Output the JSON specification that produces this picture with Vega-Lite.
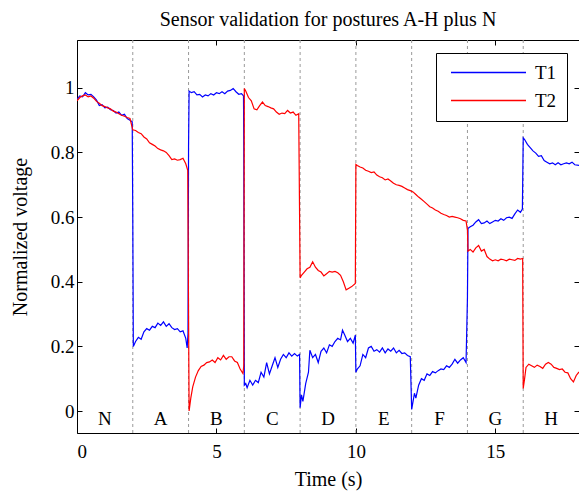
{
  "$schema": "https://vega.github.io/schema/vega-lite/v6.json",
  "width": 502,
  "height": 393,
  "autosize": {"type": "none"},
  "padding": {"left": 77, "top": 40, "right": 0, "bottom": 60},
  "background": "white",
  "title": {"text": "Sensor validation for postures A-H plus N", "fontSize": 20, "font": "Liberation Serif", "fontWeight": "normal", "color": "black", "anchor": "middle", "frame": "group", "offset": 10},
  "config": {
    "view": {"stroke": "black", "strokeWidth": 1},
    "font": "Liberation Serif",
    "text": {"font": "Liberation Serif"},
    "legend": {"labelFont": "Liberation Serif", "titleFont": "Liberation Serif"},
    "axis": {"domainColor": "black", "tickColor": "black", "labelColor": "black", "titleColor": "black", "labelFont": "Liberation Serif", "titleFont": "Liberation Serif", "labelFontSize": 19, "titleFontSize": 20, "titleFontWeight": "normal", "grid": false, "tickSize": -5, "labelPadding": 10}
  },
  "datasets": {
    "series": [
      {"s":"T1","t":0.00,"v":0.965},{"s":"T1","t":0.10,"v":0.975},{"s":"T1","t":0.20,"v":0.972},{"s":"T1","t":0.30,"v":0.985},{"s":"T1","t":0.40,"v":0.978},{"s":"T1","t":0.50,"v":0.980},{"s":"T1","t":0.60,"v":0.972},{"s":"T1","t":0.70,"v":0.962},{"s":"T1","t":0.80,"v":0.945},{"s":"T1","t":0.90,"v":0.948},{"s":"T1","t":1.00,"v":0.938},{"s":"T1","t":1.10,"v":0.940},{"s":"T1","t":1.20,"v":0.932},{"s":"T1","t":1.30,"v":0.930},{"s":"T1","t":1.40,"v":0.922},{"s":"T1","t":1.50,"v":0.925},{"s":"T1","t":1.60,"v":0.915},{"s":"T1","t":1.70,"v":0.918},{"s":"T1","t":1.80,"v":0.905},{"s":"T1","t":1.90,"v":0.900},{"s":"T1","t":1.98,"v":0.895},
      {"s":"T1","t":2.00,"v":0.600},{"s":"T1","t":2.02,"v":0.200},{"s":"T1","t":2.10,"v":0.215},{"s":"T1","t":2.20,"v":0.228},{"s":"T1","t":2.30,"v":0.222},{"s":"T1","t":2.40,"v":0.245},{"s":"T1","t":2.50,"v":0.255},{"s":"T1","t":2.60,"v":0.250},{"s":"T1","t":2.70,"v":0.262},{"s":"T1","t":2.80,"v":0.258},{"s":"T1","t":2.90,"v":0.272},{"s":"T1","t":3.00,"v":0.265},{"s":"T1","t":3.10,"v":0.276},{"s":"T1","t":3.20,"v":0.262},{"s":"T1","t":3.30,"v":0.270},{"s":"T1","t":3.40,"v":0.258},{"s":"T1","t":3.50,"v":0.252},{"s":"T1","t":3.60,"v":0.255},{"s":"T1","t":3.70,"v":0.245},{"s":"T1","t":3.80,"v":0.248},{"s":"T1","t":3.90,"v":0.225},{"s":"T1","t":3.95,"v":0.195},{"s":"T1","t":3.98,"v":0.240},
      {"s":"T1","t":4.00,"v":0.820},{"s":"T1","t":4.02,"v":0.990},{"s":"T1","t":4.10,"v":0.985},{"s":"T1","t":4.20,"v":0.988},{"s":"T1","t":4.30,"v":0.978},{"s":"T1","t":4.40,"v":0.980},{"s":"T1","t":4.50,"v":0.972},{"s":"T1","t":4.60,"v":0.978},{"s":"T1","t":4.70,"v":0.975},{"s":"T1","t":4.80,"v":0.982},{"s":"T1","t":4.90,"v":0.978},{"s":"T1","t":5.00,"v":0.985},{"s":"T1","t":5.10,"v":0.982},{"s":"T1","t":5.20,"v":0.988},{"s":"T1","t":5.30,"v":0.982},{"s":"T1","t":5.40,"v":0.990},{"s":"T1","t":5.50,"v":0.992},{"s":"T1","t":5.60,"v":0.998},{"s":"T1","t":5.70,"v":0.988},{"s":"T1","t":5.80,"v":0.980},{"s":"T1","t":5.90,"v":0.982},{"s":"T1","t":5.97,"v":0.975},{"s":"T1","t":5.98,"v":0.820},
      {"s":"T1","t":6.00,"v":0.080},{"s":"T1","t":6.05,"v":0.085},{"s":"T1","t":6.10,"v":0.072},{"s":"T1","t":6.20,"v":0.095},{"s":"T1","t":6.30,"v":0.080},{"s":"T1","t":6.40,"v":0.095},{"s":"T1","t":6.50,"v":0.088},{"s":"T1","t":6.60,"v":0.120},{"s":"T1","t":6.70,"v":0.105},{"s":"T1","t":6.80,"v":0.150},{"s":"T1","t":6.90,"v":0.115},{"s":"T1","t":7.00,"v":0.140},{"s":"T1","t":7.10,"v":0.165},{"s":"T1","t":7.20,"v":0.135},{"s":"T1","t":7.30,"v":0.160},{"s":"T1","t":7.40,"v":0.175},{"s":"T1","t":7.50,"v":0.165},{"s":"T1","t":7.60,"v":0.180},{"s":"T1","t":7.70,"v":0.170},{"s":"T1","t":7.80,"v":0.178},{"s":"T1","t":7.90,"v":0.170},{"s":"T1","t":7.98,"v":0.175},
      {"s":"T1","t":8.00,"v":0.010},{"s":"T1","t":8.05,"v":0.050},{"s":"T1","t":8.10,"v":0.030},{"s":"T1","t":8.20,"v":0.085},{"s":"T1","t":8.30,"v":0.120},{"s":"T1","t":8.35,"v":0.188},{"s":"T1","t":8.45,"v":0.165},{"s":"T1","t":8.55,"v":0.175},{"s":"T1","t":8.65,"v":0.150},{"s":"T1","t":8.75,"v":0.185},{"s":"T1","t":8.85,"v":0.195},{"s":"T1","t":8.95,"v":0.180},{"s":"T1","t":9.05,"v":0.205},{"s":"T1","t":9.15,"v":0.200},{"s":"T1","t":9.25,"v":0.215},{"s":"T1","t":9.35,"v":0.225},{"s":"T1","t":9.45,"v":0.220},{"s":"T1","t":9.52,"v":0.250},{"s":"T1","t":9.60,"v":0.235},{"s":"T1","t":9.70,"v":0.215},{"s":"T1","t":9.80,"v":0.225},{"s":"T1","t":9.90,"v":0.210},{"s":"T1","t":9.98,"v":0.235},
      {"s":"T1","t":10.00,"v":0.120},{"s":"T1","t":10.05,"v":0.130},{"s":"T1","t":10.15,"v":0.140},{"s":"T1","t":10.25,"v":0.175},{"s":"T1","t":10.35,"v":0.165},{"s":"T1","t":10.45,"v":0.195},{"s":"T1","t":10.55,"v":0.200},{"s":"T1","t":10.65,"v":0.185},{"s":"T1","t":10.75,"v":0.190},{"s":"T1","t":10.85,"v":0.182},{"s":"T1","t":10.95,"v":0.195},{"s":"T1","t":11.05,"v":0.180},{"s":"T1","t":11.15,"v":0.192},{"s":"T1","t":11.25,"v":0.185},{"s":"T1","t":11.35,"v":0.195},{"s":"T1","t":11.45,"v":0.180},{"s":"T1","t":11.55,"v":0.188},{"s":"T1","t":11.65,"v":0.178},{"s":"T1","t":11.75,"v":0.180},{"s":"T1","t":11.85,"v":0.172},{"s":"T1","t":11.95,"v":0.168},
      {"s":"T1","t":12.00,"v":0.005},{"s":"T1","t":12.05,"v":0.030},{"s":"T1","t":12.10,"v":0.055},{"s":"T1","t":12.15,"v":0.040},{"s":"T1","t":12.25,"v":0.080},{"s":"T1","t":12.35,"v":0.100},{"s":"T1","t":12.45,"v":0.095},{"s":"T1","t":12.55,"v":0.115},{"s":"T1","t":12.65,"v":0.110},{"s":"T1","t":12.75,"v":0.122},{"s":"T1","t":12.85,"v":0.118},{"s":"T1","t":12.95,"v":0.125},{"s":"T1","t":13.05,"v":0.130},{"s":"T1","t":13.15,"v":0.128},{"s":"T1","t":13.25,"v":0.140},{"s":"T1","t":13.35,"v":0.135},{"s":"T1","t":13.45,"v":0.145},{"s":"T1","t":13.55,"v":0.160},{"s":"T1","t":13.65,"v":0.148},{"s":"T1","t":13.75,"v":0.158},{"s":"T1","t":13.85,"v":0.165},{"s":"T1","t":13.95,"v":0.150},
      {"s":"T1","t":14.00,"v":0.350},{"s":"T1","t":14.02,"v":0.565},{"s":"T1","t":14.10,"v":0.570},{"s":"T1","t":14.20,"v":0.575},{"s":"T1","t":14.30,"v":0.585},{"s":"T1","t":14.40,"v":0.592},{"s":"T1","t":14.50,"v":0.580},{"s":"T1","t":14.60,"v":0.582},{"s":"T1","t":14.70,"v":0.588},{"s":"T1","t":14.80,"v":0.580},{"s":"T1","t":14.90,"v":0.585},{"s":"T1","t":15.00,"v":0.590},{"s":"T1","t":15.10,"v":0.588},{"s":"T1","t":15.20,"v":0.595},{"s":"T1","t":15.30,"v":0.590},{"s":"T1","t":15.40,"v":0.598},{"s":"T1","t":15.50,"v":0.600},{"s":"T1","t":15.60,"v":0.596},{"s":"T1","t":15.70,"v":0.610},{"s":"T1","t":15.80,"v":0.622},{"s":"T1","t":15.90,"v":0.615},{"s":"T1","t":15.97,"v":0.625},
      {"s":"T1","t":16.00,"v":0.845},{"s":"T1","t":16.05,"v":0.840},{"s":"T1","t":16.15,"v":0.825},{"s":"T1","t":16.25,"v":0.815},{"s":"T1","t":16.35,"v":0.805},{"s":"T1","t":16.45,"v":0.798},{"s":"T1","t":16.55,"v":0.788},{"s":"T1","t":16.65,"v":0.790},{"s":"T1","t":16.75,"v":0.775},{"s":"T1","t":16.85,"v":0.770},{"s":"T1","t":16.95,"v":0.765},{"s":"T1","t":17.05,"v":0.768},{"s":"T1","t":17.15,"v":0.762},{"s":"T1","t":17.25,"v":0.768},{"s":"T1","t":17.35,"v":0.762},{"s":"T1","t":17.45,"v":0.765},{"s":"T1","t":17.55,"v":0.768},{"s":"T1","t":17.65,"v":0.765},{"s":"T1","t":17.75,"v":0.770},{"s":"T1","t":17.85,"v":0.762},{"s":"T1","t":18.00,"v":0.760},
      {"s":"T2","t":0.00,"v":0.960},{"s":"T2","t":0.10,"v":0.970},{"s":"T2","t":0.20,"v":0.975},{"s":"T2","t":0.30,"v":0.978},{"s":"T2","t":0.40,"v":0.972},{"s":"T2","t":0.50,"v":0.975},{"s":"T2","t":0.60,"v":0.968},{"s":"T2","t":0.70,"v":0.958},{"s":"T2","t":0.80,"v":0.952},{"s":"T2","t":0.90,"v":0.945},{"s":"T2","t":1.00,"v":0.942},{"s":"T2","t":1.10,"v":0.938},{"s":"T2","t":1.20,"v":0.935},{"s":"T2","t":1.30,"v":0.928},{"s":"T2","t":1.40,"v":0.925},{"s":"T2","t":1.50,"v":0.920},{"s":"T2","t":1.60,"v":0.915},{"s":"T2","t":1.70,"v":0.912},{"s":"T2","t":1.80,"v":0.908},{"s":"T2","t":1.90,"v":0.905},
      {"s":"T2","t":2.00,"v":0.870},{"s":"T2","t":2.10,"v":0.868},{"s":"T2","t":2.20,"v":0.862},{"s":"T2","t":2.30,"v":0.858},{"s":"T2","t":2.40,"v":0.848},{"s":"T2","t":2.50,"v":0.842},{"s":"T2","t":2.60,"v":0.830},{"s":"T2","t":2.70,"v":0.825},{"s":"T2","t":2.80,"v":0.820},{"s":"T2","t":2.90,"v":0.812},{"s":"T2","t":3.00,"v":0.808},{"s":"T2","t":3.10,"v":0.805},{"s":"T2","t":3.20,"v":0.800},{"s":"T2","t":3.30,"v":0.790},{"s":"T2","t":3.40,"v":0.778},{"s":"T2","t":3.50,"v":0.780},{"s":"T2","t":3.60,"v":0.776},{"s":"T2","t":3.70,"v":0.778},{"s":"T2","t":3.80,"v":0.782},{"s":"T2","t":3.90,"v":0.765},{"s":"T2","t":3.97,"v":0.745},
      {"s":"T2","t":4.00,"v":0.300},{"s":"T2","t":4.02,"v":0.000},{"s":"T2","t":4.08,"v":0.040},{"s":"T2","t":4.15,"v":0.075},{"s":"T2","t":4.25,"v":0.105},{"s":"T2","t":4.35,"v":0.125},{"s":"T2","t":4.45,"v":0.138},{"s":"T2","t":4.55,"v":0.142},{"s":"T2","t":4.65,"v":0.150},{"s":"T2","t":4.75,"v":0.152},{"s":"T2","t":4.85,"v":0.158},{"s":"T2","t":4.95,"v":0.150},{"s":"T2","t":5.05,"v":0.165},{"s":"T2","t":5.15,"v":0.158},{"s":"T2","t":5.25,"v":0.172},{"s":"T2","t":5.35,"v":0.160},{"s":"T2","t":5.45,"v":0.168},{"s":"T2","t":5.55,"v":0.168},{"s":"T2","t":5.65,"v":0.155},{"s":"T2","t":5.75,"v":0.150},{"s":"T2","t":5.85,"v":0.130},{"s":"T2","t":5.95,"v":0.116},{"s":"T2","t":5.98,"v":0.140},
      {"s":"T2","t":6.00,"v":0.998},{"s":"T2","t":6.05,"v":0.990},{"s":"T2","t":6.15,"v":0.970},{"s":"T2","t":6.25,"v":0.960},{"s":"T2","t":6.35,"v":0.935},{"s":"T2","t":6.45,"v":0.932},{"s":"T2","t":6.55,"v":0.945},{"s":"T2","t":6.65,"v":0.956},{"s":"T2","t":6.75,"v":0.945},{"s":"T2","t":6.85,"v":0.942},{"s":"T2","t":6.95,"v":0.938},{"s":"T2","t":7.05,"v":0.935},{"s":"T2","t":7.15,"v":0.925},{"s":"T2","t":7.25,"v":0.918},{"s":"T2","t":7.35,"v":0.922},{"s":"T2","t":7.45,"v":0.920},{"s":"T2","t":7.55,"v":0.930},{"s":"T2","t":7.65,"v":0.922},{"s":"T2","t":7.75,"v":0.925},{"s":"T2","t":7.85,"v":0.915},{"s":"T2","t":7.95,"v":0.920},
      {"s":"T2","t":8.00,"v":0.412},{"s":"T2","t":8.05,"v":0.420},{"s":"T2","t":8.15,"v":0.430},{"s":"T2","t":8.25,"v":0.440},{"s":"T2","t":8.35,"v":0.445},{"s":"T2","t":8.45,"v":0.462},{"s":"T2","t":8.55,"v":0.445},{"s":"T2","t":8.65,"v":0.435},{"s":"T2","t":8.75,"v":0.430},{"s":"T2","t":8.85,"v":0.418},{"s":"T2","t":8.95,"v":0.425},{"s":"T2","t":9.05,"v":0.432},{"s":"T2","t":9.15,"v":0.430},{"s":"T2","t":9.25,"v":0.432},{"s":"T2","t":9.35,"v":0.428},{"s":"T2","t":9.45,"v":0.420},{"s":"T2","t":9.55,"v":0.400},{"s":"T2","t":9.65,"v":0.375},{"s":"T2","t":9.75,"v":0.380},{"s":"T2","t":9.85,"v":0.385},{"s":"T2","t":9.98,"v":0.395},
      {"s":"T2","t":10.00,"v":0.763},{"s":"T2","t":10.05,"v":0.760},{"s":"T2","t":10.15,"v":0.755},{"s":"T2","t":10.25,"v":0.752},{"s":"T2","t":10.35,"v":0.745},{"s":"T2","t":10.45,"v":0.742},{"s":"T2","t":10.55,"v":0.738},{"s":"T2","t":10.65,"v":0.740},{"s":"T2","t":10.75,"v":0.730},{"s":"T2","t":10.85,"v":0.725},{"s":"T2","t":10.95,"v":0.722},{"s":"T2","t":11.05,"v":0.715},{"s":"T2","t":11.15,"v":0.718},{"s":"T2","t":11.25,"v":0.712},{"s":"T2","t":11.35,"v":0.705},{"s":"T2","t":11.45,"v":0.700},{"s":"T2","t":11.55,"v":0.698},{"s":"T2","t":11.65,"v":0.695},{"s":"T2","t":11.75,"v":0.690},{"s":"T2","t":11.85,"v":0.685},{"s":"T2","t":11.95,"v":0.682},
      {"s":"T2","t":12.05,"v":0.678},{"s":"T2","t":12.15,"v":0.670},{"s":"T2","t":12.25,"v":0.662},{"s":"T2","t":12.35,"v":0.655},{"s":"T2","t":12.45,"v":0.648},{"s":"T2","t":12.55,"v":0.640},{"s":"T2","t":12.65,"v":0.632},{"s":"T2","t":12.75,"v":0.628},{"s":"T2","t":12.85,"v":0.622},{"s":"T2","t":12.95,"v":0.618},{"s":"T2","t":13.05,"v":0.612},{"s":"T2","t":13.15,"v":0.608},{"s":"T2","t":13.25,"v":0.605},{"s":"T2","t":13.35,"v":0.600},{"s":"T2","t":13.45,"v":0.602},{"s":"T2","t":13.55,"v":0.600},{"s":"T2","t":13.65,"v":0.598},{"s":"T2","t":13.75,"v":0.595},{"s":"T2","t":13.85,"v":0.590},{"s":"T2","t":13.95,"v":0.588},
      {"s":"T2","t":14.00,"v":0.560},{"s":"T2","t":14.02,"v":0.495},{"s":"T2","t":14.10,"v":0.500},{"s":"T2","t":14.20,"v":0.492},{"s":"T2","t":14.30,"v":0.505},{"s":"T2","t":14.40,"v":0.512},{"s":"T2","t":14.50,"v":0.495},{"s":"T2","t":14.60,"v":0.500},{"s":"T2","t":14.70,"v":0.478},{"s":"T2","t":14.80,"v":0.470},{"s":"T2","t":14.90,"v":0.465},{"s":"T2","t":15.00,"v":0.468},{"s":"T2","t":15.10,"v":0.465},{"s":"T2","t":15.20,"v":0.470},{"s":"T2","t":15.30,"v":0.468},{"s":"T2","t":15.40,"v":0.465},{"s":"T2","t":15.50,"v":0.470},{"s":"T2","t":15.60,"v":0.468},{"s":"T2","t":15.70,"v":0.466},{"s":"T2","t":15.80,"v":0.472},{"s":"T2","t":15.90,"v":0.470},{"s":"T2","t":15.98,"v":0.472},
      {"s":"T2","t":16.00,"v":0.070},{"s":"T2","t":16.05,"v":0.100},{"s":"T2","t":16.10,"v":0.135},{"s":"T2","t":16.20,"v":0.145},{"s":"T2","t":16.30,"v":0.140},{"s":"T2","t":16.40,"v":0.135},{"s":"T2","t":16.50,"v":0.142},{"s":"T2","t":16.60,"v":0.138},{"s":"T2","t":16.70,"v":0.132},{"s":"T2","t":16.80,"v":0.145},{"s":"T2","t":16.90,"v":0.150},{"s":"T2","t":17.00,"v":0.145},{"s":"T2","t":17.10,"v":0.135},{"s":"T2","t":17.20,"v":0.132},{"s":"T2","t":17.30,"v":0.128},{"s":"T2","t":17.40,"v":0.130},{"s":"T2","t":17.50,"v":0.120},{"s":"T2","t":17.60,"v":0.118},{"s":"T2","t":17.70,"v":0.100},{"s":"T2","t":17.80,"v":0.090},{"s":"T2","t":17.90,"v":0.110},{"s":"T2","t":18.00,"v":0.121}
    ],
    "bounds": [{"t":2},{"t":4},{"t":6},{"t":8},{"t":10},{"t":12},{"t":14},{"t":16}],
    "labels": [{"t":1,"y":-0.025,"lab":"N"},{"t":3,"y":-0.025,"lab":"A"},{"t":5,"y":-0.025,"lab":"B"},{"t":7,"y":-0.025,"lab":"C"},{"t":9,"y":-0.025,"lab":"D"},{"t":11,"y":-0.025,"lab":"E"},{"t":13,"y":-0.025,"lab":"F"},{"t":15,"y":-0.025,"lab":"G"},{"t":17,"y":-0.025,"lab":"H"}]
  },
  "layer": [
    {
      "data": {"name": "bounds"},
      "mark": {"type": "rule", "color": "#9a9a9a", "strokeWidth": 1, "strokeDash": [3, 3]},
      "encoding": {
        "x": {"field": "t", "type": "quantitative", "scale": {"domain": [0, 18], "nice": false, "zero": false}, "axis": null}
      }
    },
    {
      "data": {"name": "series"},
      "mark": {"type": "line", "strokeWidth": 1.2, "clip": true},
      "encoding": {
        "x": {"field": "t", "type": "quantitative", "scale": {"domain": [0, 18], "nice": false, "zero": false}, "axis": {"orient": "bottom", "values": [0, 5, 10, 15], "title": "Time (s)", "labelPadding": 14, "titlePadding": 8, "domain": false, "labelFont": "Liberation Serif", "titleFont": "Liberation Serif"}},
        "y": {"field": "v", "type": "quantitative", "scale": {"domain": [-0.068, 1.148], "nice": false, "zero": false}, "axis": {"orient": "left", "values": [0, 0.2, 0.4, 0.6, 0.8, 1], "format": "~g", "title": "Normalized voltage", "labelPadding": 8, "titlePadding": 20, "domain": false, "labelFont": "Liberation Serif", "titleFont": "Liberation Serif"}},
        "color": {"field": "s", "type": "nominal", "scale": {"domain": ["T1", "T2"], "range": ["#0000ff", "#ff0000"]}, "legend": {"orient": "none", "legendX": 359, "legendY": 13, "title": null, "symbolType": "stroke", "symbolSize": 5625, "symbolStrokeWidth": 1.3, "clipHeight": 19, "symbolOffset": 4, "labelFontSize": 19, "labelFont": "Liberation Serif", "labelColor": "black", "strokeColor": "black", "fillColor": "white", "padding": 10, "rowPadding": 8, "labelOffset": 8}}
      }
    },
    {
      "data": {"name": "labels"},
      "mark": {"type": "text", "fontSize": 19, "font": "Liberation Serif", "color": "black", "align": "center", "baseline": "middle"},
      "encoding": {
        "x": {"field": "t", "type": "quantitative", "scale": {"domain": [0, 18], "nice": false, "zero": false}, "axis": {"orient": "top", "values": [0, 5, 10, 15], "labels": false, "title": null, "domain": false}},
        "y": {"field": "y", "type": "quantitative", "scale": {"domain": [-0.068, 1.148], "nice": false, "zero": false}, "axis": {"orient": "right", "values": [0, 0.2, 0.4, 0.6, 0.8, 1], "labels": false, "title": null, "domain": false}},
        "text": {"field": "lab"}
      }
    }
  ],
  "resolve": {"axis": {"x": "independent", "y": "independent"}}
}
